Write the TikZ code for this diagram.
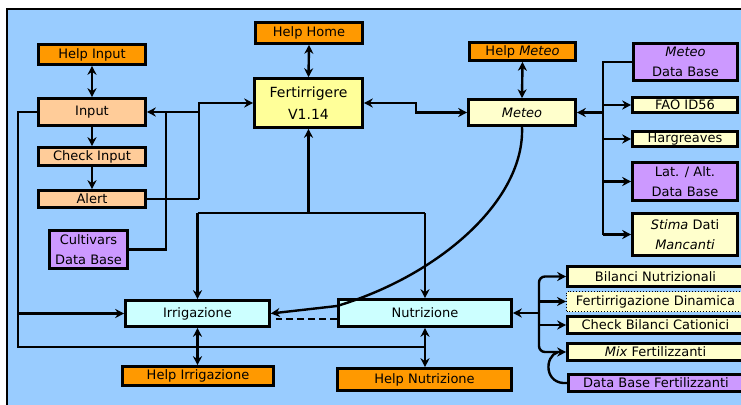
\documentclass[tikz,border=0pt]{standalone}
\usepackage{fontspec}
\setmainfont{DejaVu Sans}
\usetikzlibrary{arrows.meta}
\definecolor{bgblue}{HTML}{99CCFF}
\definecolor{helporange}{HTML}{FF9900}
\definecolor{peach}{HTML}{FFCC99}
\definecolor{lilac}{HTML}{CC99FF}
\definecolor{yellowA}{HTML}{FFFF99}
\definecolor{yellowB}{HTML}{FFFFCC}
\definecolor{cyanA}{HTML}{CCFFFF}
\begin{document}
\begin{tikzpicture}[x=1pt,y=-1pt,
  box/.style={draw=black,line width=2.6pt,inner sep=0pt,align=center,font=\fontsize{13}{20}\selectfont},
  help/.style={box,fill=helporange},
  inbox/.style={box,fill=peach},
  dbbox/.style={box,fill=lilac},
  ybox/.style={box,fill=yellowB},
  cbox/.style={box,fill=cyanA},
  ln/.style={line width=2.4pt},
  ar/.style={ln,-{Stealth[length=9pt,width=9pt]}},
  dar/.style={ln,{Stealth[length=9pt,width=9pt]}-{Stealth[length=9pt,width=9pt]}}]
\useasboundingbox (0,0) rectangle (741,404);
\clip (0,0) rectangle (741,404);
\fill[white] (0,0) rectangle (741,404);
\draw[fill=bgblue,line width=2pt] (7,9) rectangle (760,420);

% left column
\node[help,minimum width=107pt,minimum height=20pt] (hin) at (92,54.5) {Help Input};
\node[inbox,minimum width=107pt,minimum height=27pt] (inp) at (92,112) {Input};
\node[inbox,minimum width=107pt,minimum height=18pt] (chk) at (92,156.5) {Check Input};
\node[inbox,minimum width=107pt,minimum height=17pt] (alert) at (92,199) {Alert};
\node[dbbox,minimum width=78pt,minimum height=38pt] (cult) at (88.5,249.5) {Cultivars\\Data Base};

% centre
\node[help,minimum width=107pt,minimum height=21pt] (hhome) at (309,33) {Help Home};
\node[box,fill=yellowA,minimum width=108pt,minimum height=49pt,font=\fontsize{14}{22}\selectfont] (fert) at (308.5,103) {Fertirrigere\\V1.14};

% meteo
\node[help,minimum width=106pt,minimum height=18pt] (hmet) at (522.5,51.5) {Help \textit{Meteo}};
\node[ybox,minimum width=107pt,minimum height=26pt] (met) at (522,112.5) {\textit{Meteo}};
\node[dbbox,minimum width=104pt,minimum height=37pt] (mdb) at (685.5,62) {\textit{Meteo}\\Data Base};
\node[ybox,minimum width=105pt,minimum height=15pt] (fao) at (685,105) {FAO ID56};
\node[ybox,minimum width=105pt,minimum height=15pt] (harg) at (685,139) {Hargreaves};
\node[dbbox,minimum width=105pt,minimum height=38pt] (lat) at (685,181.5) {Lat. / Alt.\\Data Base};
\node[ybox,minimum width=105pt,minimum height=42pt] (stima) at (685,234.5) {\textit{Stima} Dati\\\textit{Mancanti}};

% irrigazione / nutrizione
\node[cbox,minimum width=144pt,minimum height=26pt] (irr) at (197.5,313.5) {Irrigazione};
\node[help,minimum width=151pt,minimum height=19pt] (hirr) at (198,376) {Help Irrigazione};
\node[cbox,minimum width=173pt,minimum height=27pt] (nut) at (425,313) {Nutrizione};
\node[help,minimum width=174pt,minimum height=22pt] (hnut) at (424.5,379.5) {Help Nutrizione};

% nutrition tools
\node[ybox,minimum width=176pt,minimum height=20pt] (bil) at (655.5,276.5) {Bilanci Nutrizionali};
\node[box,fill=yellowB,draw=black,line width=0.9pt,dotted,minimum width=178pt,minimum height=20pt] (fdin) at (655.5,301.5) {Fertirrigazione Dinamica};
\node[ybox,minimum width=176pt,minimum height=17pt] (cbc) at (655.5,325) {Check Bilanci Cationici};
\node[ybox,minimum width=176pt,minimum height=17pt] (mix) at (655.5,352) {\textit{Mix} Fertilizzanti};
\node[dbbox,minimum width=175pt,minimum height=17pt] (dbf) at (656,383) {Data Base Fertilizzanti};

% coordinates
\coordinate (ja) at (199,199);
\coordinate (jb) at (199,103);
\coordinate (jc) at (199,112);
\coordinate (jd) at (166,249.5);
\coordinate (je) at (166,112);
\coordinate (la) at (18,112);
\coordinate (lb) at (18,347);
\coordinate (lc) at (425,347);
\coordinate (ld) at (18,313.5);
\coordinate (fa) at (416,103);
\coordinate (fb) at (416,112.5);
\coordinate (ma) at (603,112.5);
\coordinate (mt) at (603,62);
\coordinate (mb) at (603,234.5);
\coordinate (ta) at (308.5,213);
\coordinate (tl) at (197.5,213);
\coordinate (tr) at (425,213);
\coordinate (ca) at (337,306);
\coordinate (da) at (337,319);
\coordinate (db) at (276,319);
\coordinate (na) at (539,313);

% left column connectors
\draw[dar] (hin.south) -- (inp.north);
\draw[ar] (inp.south) -- (chk.north);
\draw[ar] (chk.south) -- (alert.north);
\draw[ln] (alert.east) -- (ja);
\draw[ar] (ja) -- (jb) -- (fert.west);
\draw[ar] (jc) -- (inp.east);
\draw[ln] (cult.east) -- (jd) -- (je);
\draw[ln] (inp.west) -- (la) -- (lb) -- (lc);
\draw[ar] (ld) -- (irr.west);

% centre connectors
\draw[dar] (hhome.south) -- (fert.north);
\draw[dar] (fert.east) -- (fa) -- (fb) -- (met.west);
\draw[dar] (hmet.south) -- (met.north);
\draw[ar] (ta) -- (fert.south);
\draw[ln] (tl) -- (tr);
\draw[ar] (tl) -- (irr.north);
\draw[ar] (tr) -- (nut.north);

% meteo tools
\draw[ar] (ma) -- (met.east);
\draw[ln] (mdb.west) -- (mt) -- (mb);
\draw[ar] (fao.west -| ma) -- (fao.west);
\draw[ar] (harg.west -| ma) -- (harg.west);
\draw[ar] (lat.west -| ma) -- (lat.west);
\draw[ar] (mb) -- (stima.west);

% meteo curve to irrigazione
\draw[ar] (met.south) .. controls (525,200) and (440,275) .. (ca) -- (irr.east);
\draw[ln,dashed,dash pattern=on 7pt off 4pt] (da) -- (db);

% help irrigazione / nutrizione
\draw[dar] (irr.south) -- (irr.south |- hirr.north);
\draw[dar] (nut.south) -- (nut.south |- hnut.north);

% nutrition tools
\draw[ar] (na) -- (nut.east);
\draw[ar,rounded corners=6pt] (na) |- (bil.west);
\draw[ar,rounded corners=6pt] (na) |- (mix.west);
\draw[ar] (fdin.west -| na) -- (fdin.west);
\draw[ar] (cbc.west -| na) -- (cbc.west);
\draw[ln] (dbf.west) .. controls (544,385) and (544,356) .. (558,352);
\end{tikzpicture}
\end{document}
